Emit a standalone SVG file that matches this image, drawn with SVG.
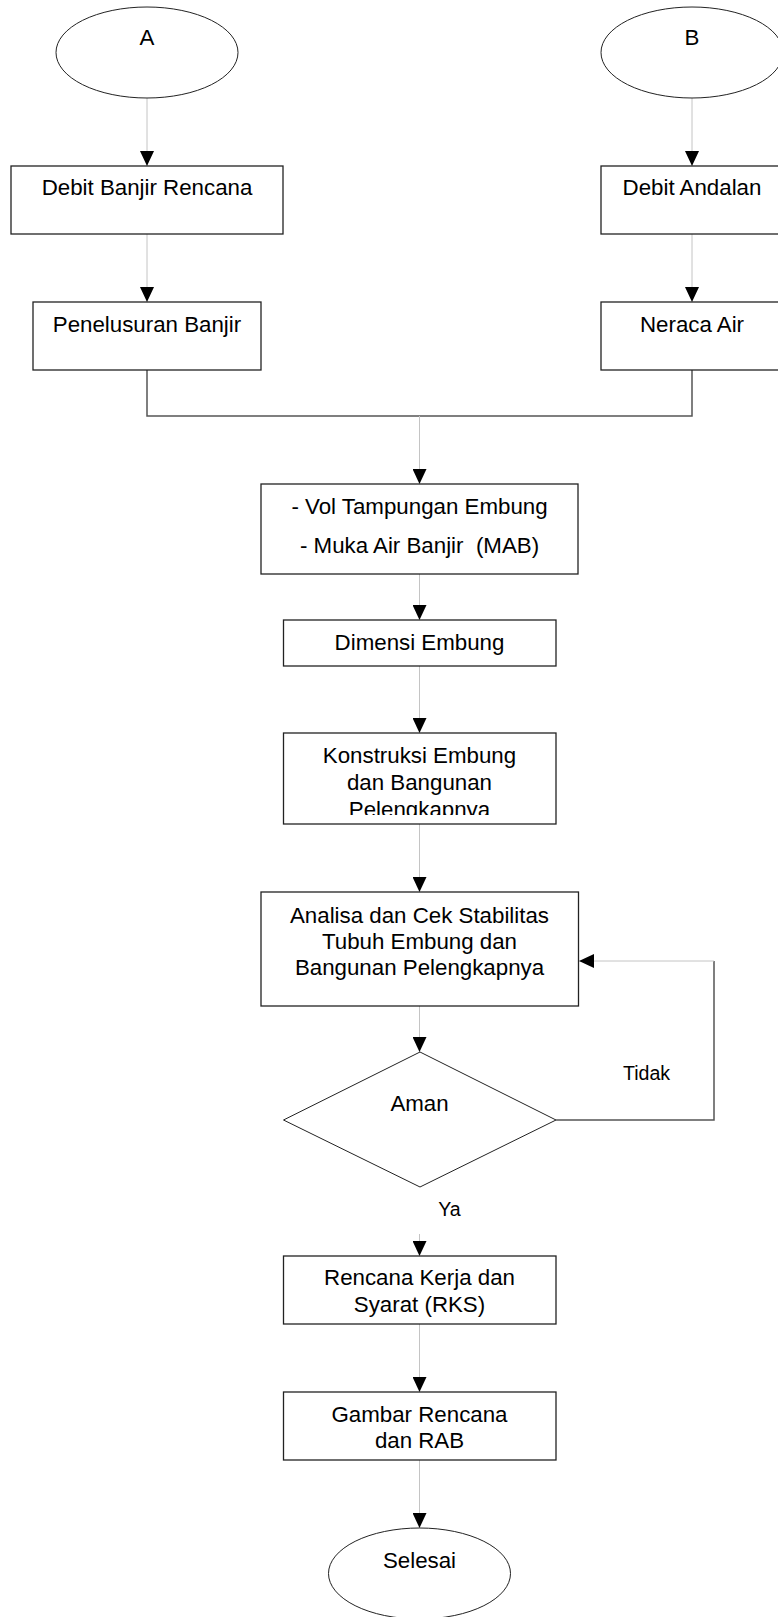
<svg xmlns="http://www.w3.org/2000/svg" width="778" height="1617" viewBox="0 0 778 1617">
<style>
.box{fill:#fff;stroke:#222;stroke-width:1.3}
.term{fill:#fff;stroke:#222;stroke-width:1}
.t{font-family:"Liberation Sans",Arial,sans-serif;font-size:22.3px;fill:#000;text-anchor:middle}
.s{font-family:"Liberation Sans",Arial,sans-serif;font-size:19.6px;fill:#000;text-anchor:middle}
.lt{fill:none;stroke:#c4c4c4;stroke-width:1}
.dk{fill:none;stroke:#555;stroke-width:1.5}
</style>
<defs>
<marker id="ah" markerUnits="userSpaceOnUse" viewBox="0 0 15 14" markerWidth="15" markerHeight="14" refX="15" refY="7" orient="auto">
<path d="M0,0 L15,7 L0,14 Z" fill="#000"/>
</marker>
<clipPath id="clipK"><rect x="283" y="733" width="273" height="82"/></clipPath>
</defs>
<rect width="778" height="1617" fill="#fff"/>
<g id="connectors">
<line class="lt" x1="147" y1="98" x2="147" y2="166" marker-end="url(#ah)"/>
<line class="lt" x1="147" y1="234" x2="147" y2="302" marker-end="url(#ah)"/>
<line class="lt" x1="692" y1="98" x2="692" y2="166" marker-end="url(#ah)"/>
<line class="lt" x1="692" y1="234" x2="692" y2="302" marker-end="url(#ah)"/>
<polyline class="dk" points="147,370 147,416 692,416 692,370"/>
<line class="lt" x1="419.5" y1="416" x2="419.5" y2="484" marker-end="url(#ah)"/>
<line class="lt" x1="419.5" y1="574" x2="419.5" y2="620" marker-end="url(#ah)"/>
<line class="lt" x1="419.5" y1="666" x2="419.5" y2="733" marker-end="url(#ah)"/>
<line class="lt" x1="419.5" y1="824" x2="419.5" y2="892" marker-end="url(#ah)"/>
<line class="lt" x1="419.5" y1="1006" x2="419.5" y2="1052" marker-end="url(#ah)"/>
<line class="lt" x1="419.5" y1="1234" x2="419.5" y2="1256" marker-end="url(#ah)"/>
<line class="lt" x1="419.5" y1="1324" x2="419.5" y2="1392" marker-end="url(#ah)"/>
<line class="lt" x1="419.5" y1="1460" x2="419.5" y2="1528" marker-end="url(#ah)"/>
<polyline class="dk" points="556,1120 714,1120 714,961"/>
<line class="lt" x1="714" y1="961" x2="579" y2="961" marker-end="url(#ah)"/>
<text class="s" x="646.5" y="1080">Tidak</text>
<text class="s" x="449.5" y="1215.5">Ya</text>
</g>
<g id="nodeA">
<ellipse class="term" cx="147" cy="52.5" rx="91" ry="45.5"/>
<text class="t" x="147" y="45">A</text>
</g>
<g id="nodeB">
<ellipse class="term" cx="692" cy="52.5" rx="91" ry="45.5"/>
<text class="t" x="692" y="45">B</text>
</g>
<g id="debitBanjir">
<rect class="box" x="11" y="166" width="272" height="68"/>
<text class="t" x="147" y="195">Debit Banjir Rencana</text>
</g>
<g id="debitAndalan">
<rect class="box" x="601" y="166" width="182" height="68"/>
<text class="t" x="692" y="195">Debit Andalan</text>
</g>
<g id="penelusuran">
<rect class="box" x="33" y="302" width="228" height="68"/>
<text class="t" x="147" y="332">Penelusuran Banjir</text>
</g>
<g id="neraca">
<rect class="box" x="601" y="302" width="182" height="68"/>
<text class="t" x="692" y="332">Neraca Air</text>
</g>
<g id="volTampungan">
<rect class="box" x="261" y="484" width="317" height="90"/>
<text class="t" x="419.5" y="514">- Vol Tampungan Embung</text>
<text class="t" x="419.5" y="553" xml:space="preserve">- Muka Air Banjir  (MAB)</text>
</g>
<g id="dimensi">
<rect class="box" x="283.5" y="620" width="272.5" height="46"/>
<text class="t" x="419.5" y="650">Dimensi Embung</text>
</g>
<g id="konstruksi">
<rect class="box" x="283.5" y="733" width="272.5" height="91"/>
<g clip-path="url(#clipK)">
<text class="t" x="419.5" y="763">Konstruksi Embung</text>
<text class="t" x="419.5" y="790">dan Bangunan</text>
<text class="t" x="419.5" y="817">Pelengkapnya</text>
</g>
</g>
<g id="analisa">
<rect class="box" x="261" y="892" width="317.5" height="114"/>
<text class="t" x="419.5" y="922.5">Analisa dan Cek Stabilitas</text>
<text class="t" x="419.5" y="948.5">Tubuh Embung dan</text>
<text class="t" x="419.5" y="974.5">Bangunan Pelengkapnya</text>
</g>
<g id="aman">
<polygon class="term" points="420,1052 556,1120 420,1187 283.5,1120"/>
<text class="t" x="419.5" y="1110.5">Aman</text>
</g>
<g id="rks">
<rect class="box" x="283.5" y="1256" width="272.5" height="68"/>
<text class="t" x="419.5" y="1285">Rencana Kerja dan</text>
<text class="t" x="419.5" y="1311.5">Syarat (RKS)</text>
</g>
<g id="gambar">
<rect class="box" x="283.5" y="1392" width="272.5" height="68"/>
<text class="t" x="419.5" y="1421.5">Gambar Rencana</text>
<text class="t" x="419.5" y="1447.5">dan RAB</text>
</g>
<g id="selesai">
<ellipse class="term" cx="419.5" cy="1573.5" rx="91" ry="45.5"/>
<text class="t" x="419.5" y="1568">Selesai</text>
</g>
</svg>
